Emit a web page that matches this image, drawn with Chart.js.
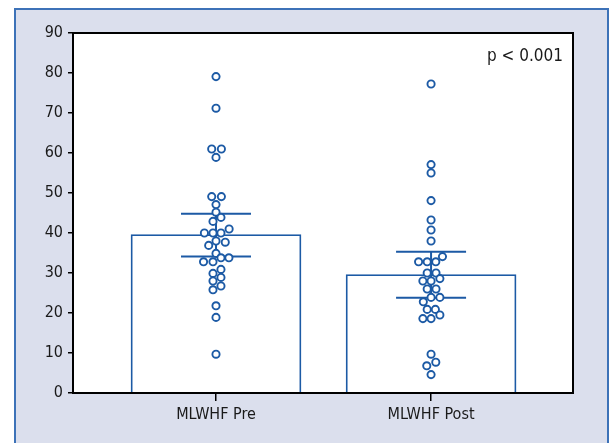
<!DOCTYPE html>
<html>
<head>
<script src="https://cdn.jsdelivr.net/npm/chart.js"></script>
<style>
  body { margin: 0; background: #fff; }
  #panel { position: absolute; left: 14px; top: 8px; width: 591px; height: 460px; background: #dbdfed; border: 2px solid #3d72b8; border-bottom: none; }
  #wrap { position: absolute; left: 0; top: 0; width: 609px; height: 443px; }
</style>
</head>
<body>
<div id="panel"></div>
<div id="wrap"><canvas id="myChart" width="609" height="443"></canvas></div>
<script>
// groups, bar heights (mean) and error bar limits
const categories = ['MLWHF Pre', 'MLWHF Post'];
const means = [39.6, 29.6];
const upper = [44.8, 35.3];
const lower = [34.1, 23.8];
const pText = 'p < 0.001';

// individual patients, x = group position with small swarm offset
const preX = [1, 1, 0.98, 1.025, 1, 0.98, 1.025, 1, 1, 1.023, 0.986, 1.061, 0.946, 0.986, 1.023, 1,
  1.043, 0.966, 1, 1.023, 1.06, 0.942, 0.986, 1.023, 0.986, 1.023, 0.986, 1.023, 0.986, 1, 1, 1];
const preY = [79.1, 71.2, 61, 61, 58.9, 49.1, 49.1, 47.1, 45.2, 43.9, 42.9, 41, 40, 40, 40, 38,
  37.7, 36.9, 34.9, 33.8, 33.8, 32.8, 32.8, 30.9, 29.9, 28.9, 28, 26.75, 25.8, 21.8, 18.9, 9.7];
const postX = [2, 2, 2, 2, 2, 2, 2, 2.053, 1.942, 1.982, 2.022, 1.982, 2.023, 2.041, 1.962, 2,
  1.982, 2.023, 2, 2.041, 1.964, 1.982, 2.02, 2.041, 1.962, 2, 2, 2.022, 1.98, 2];
const postY = [77.25, 57.1, 55, 48.1, 43.25, 40.75, 38, 34.1, 32.8, 32.8, 32.8, 30, 30, 28.6, 28, 28,
  26, 26, 23.9, 23.9, 22.8, 20.9, 20.9, 19.5, 18.6, 18.6, 9.7, 7.7, 6.8, 4.6];

const blue = '#1c5aa5';
const fontFam = "'DejaVu Sans Condensed', 'Liberation Sans Narrow', sans-serif";

const plotDeco = {
  id: 'plotDeco',
  beforeDraw(chart) {
    const a = chart.chartArea, ctx = chart.ctx;
    ctx.save();
    ctx.fillStyle = '#fff';
    ctx.fillRect(a.left, a.top, a.right - a.left, a.bottom - a.top);
    ctx.restore();
  },
  afterDatasetDraw(chart, args) {
    if (args.index !== 0) return;
    const ctx = chart.ctx, xs = chart.scales.x, ys = chart.scales.y;
    ctx.save();
    ctx.strokeStyle = blue;
    ctx.lineWidth = 2;
    means.forEach((m, i) => {
      const cx = xs.getPixelForValue(i + 1);
      const yu = ys.getPixelForValue(upper[i]);
      const yl = ys.getPixelForValue(lower[i]);
      ctx.beginPath();
      ctx.moveTo(cx, yu); ctx.lineTo(cx, yl);
      ctx.moveTo(cx - 35, yu); ctx.lineTo(cx + 35, yu);
      ctx.moveTo(cx - 35, yl); ctx.lineTo(cx + 35, yl);
      ctx.stroke();
    });
    ctx.restore();
  },
  afterDraw(chart) {
    const a = chart.chartArea, ctx = chart.ctx;
    ctx.save();
    ctx.strokeStyle = '#000';
    ctx.lineWidth = 2;
    ctx.strokeRect(a.left, a.top, a.right - a.left, a.bottom - a.top);
    ctx.fillStyle = '#1a1a1a';
    ctx.font = '17px ' + fontFam;
    ctx.textAlign = 'right';
    ctx.textBaseline = 'alphabetic';
    ctx.fillText(pText, a.right - 10, 61);
    ctx.restore();
  }
};

const ctx = document.getElementById('myChart');
new Chart(ctx, {
  data: {
    datasets: [{
      type: 'bar',
      data: categories.map((c, i) => ({x: i + 1, y: means[i]})),
      backgroundColor: '#fff',
      borderColor: blue,
      borderWidth: 1.8,
      barThickness: 170,
      grouped: false,
      order: 2
    }, {
      type: 'scatter',
      data: preX.map((x, i) => ({x: x, y: preY[i]})),
      pointRadius: 3.6,
      pointBorderWidth: 1.9,
      pointBackgroundColor: '#fff',
      pointBorderColor: blue,
      order: 0
    }, {
      type: 'scatter',
      data: postX.map((x, i) => ({x: x, y: postY[i]})),
      pointRadius: 3.6,
      pointBorderWidth: 1.9,
      pointBackgroundColor: '#fff',
      pointBorderColor: blue,
      order: 0
    }]
  },
  options: {
    responsive: false,
    animation: false,
    layout: { padding: { left: 0, top: 33, right: 36, bottom: 0 } },
    plugins: { legend: { display: false }, tooltip: { enabled: false } },
    scales: {
      x: {
        type: 'linear',
        min: 0.335,
        max: 2.66,
        offset: false,
        afterBuildTicks: s => { s.ticks = categories.map((c, i) => ({value: i + 1})); },
        afterFit: s => { s.height = 50; },
        ticks: {
          callback: v => categories[v - 1],
          font: { family: fontFam, size: 16 },
          color: '#1a1a1a',
          padding: 4,
          maxRotation: 0
        },
        grid: { drawOnChartArea: false, offset: false, tickLength: 8, color: '#000', lineWidth: 1.5 },
        border: { color: '#000', width: 2 }
      },
      y: {
        min: 0,
        max: 90,
        afterFit: s => { s.width = 73; },
        ticks: {
          stepSize: 10,
          font: { family: fontFam, size: 16 },
          color: '#1a1a1a',
          padding: 5
        },
        grid: { drawOnChartArea: false, tickLength: 5, color: '#000', lineWidth: 1.5 },
        border: { color: '#000', width: 2 }
      }
    }
  },
  plugins: [plotDeco]
});
</script>
</body>
</html>
